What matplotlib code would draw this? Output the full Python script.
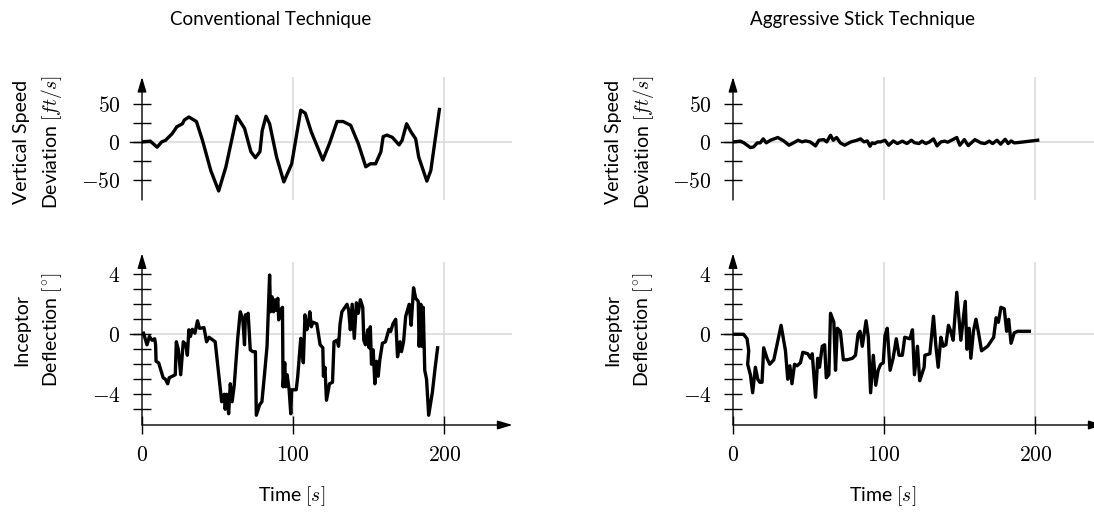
import matplotlib
matplotlib.use("Agg")
import matplotlib.pyplot as plt

plt.rcParams['font.family'] = ['Lato', 'DejaVu Sans']
plt.rcParams['mathtext.fontset'] = 'cm'

# ---------------- data ----------------
panel_titles = ["Conventional Technique", "Aggressive Stick Technique"]
time_label = "Time $[s]$"
vs_label = ["Vertical Speed", "Deviation $[ft/s]$"]
inc_label = ["Inceptor", r"Deflection $[^{\circ}]$"]

x_ticks = [0, 100, 200]
x_tick_labels = ["$0$", "$100$", "$200$"]
vs_ticks = [-50, 0, 50]
vs_tick_labels = ["$-50$", "$0$", "$50$"]
vs_minor = [-25, 25]
inc_ticks = [-4, 0, 4]
inc_tick_labels = ["$-4$", "$0$", "$4$"]
inc_minor = [-5, -3, -2, -1, 1, 2, 3]

# Conventional technique - vertical speed deviation
conv_vs_t = [0, 5.5, 10, 13, 15.5, 20, 23, 26.7, 28, 31, 36, 40, 45.5, 50.7, 55.5,
             62.7, 67.8, 72, 75, 78, 79.5, 82, 84.4, 89, 93.8, 99, 105, 108, 112,
             119.6, 124, 129, 133, 138, 143, 148, 151, 154.5, 158, 159.5, 162,
             165.6, 170, 172, 175, 178, 181, 183, 188.4, 191, 196.7]
conv_vs_v = [0, 1, -7, 0, 2, 11, 20, 24, 29, 33, 27, 2, -38, -65, -33,
             34, 18, -13, -21, -13, 15, 34, 24, -20, -53, -29, 42, 38, 13,
             -24, -2, 27, 27, 22, -2, -33, -29, -29, -13, 7, 9,
             6, -4, 2, 24, 13, 4, -20, -52, -38, 43]

# Conventional technique - inceptor deflection
conv_in_t = [1, 3.3, 4.9, 6.7, 8.4, 9, 9.3, 11, 12.2, 14, 15.5, 17, 18, 20, 22, 22.7,
             24, 25.6, 27.3, 29, 30, 31, 32, 33.3, 35, 36.7, 38, 41, 42.7, 44.4,
             48.4, 50, 52.7, 54.4, 55, 56, 57.3, 58.4, 59.6, 61, 63.3, 65, 66.7,
             67.8, 68.4, 69.3, 70.2, 71.6, 73.3, 75, 75.6, 77.8, 79.3, 81, 82.7,
             84.4, 85, 86, 87, 88, 88.9, 89.8, 90.4, 91.6, 92.9, 93.3, 94.4, 95,
             96, 97.3, 98.4, 99, 102, 103, 105, 105.5, 106.7, 107.8, 109, 110, 111,
             112, 113, 115.6, 117.8, 119.6, 120, 121, 122, 124, 126, 127, 129,
             130, 131, 132.2, 135.6, 136.7, 137.8, 139, 140.4, 141.8, 143, 144.4,
             146, 146.7, 147.8, 149.3, 150.2, 151, 151.8, 152.9, 154, 155.1,
             156.2, 157.3, 159, 161, 163.3, 164.4, 166, 167.8, 169, 170.7, 171.6,
             173, 174.4, 176.7, 178, 179.6, 181, 182.7, 183.3, 184.4, 185, 186,
             187, 188.2, 189.6, 192, 193.8, 195.5]
conv_in_v = [0.07, -0.7, -0.15, -0.4, -0.3, -0.7, -1.8, -1.9, -2.3, -2.9, -3.0, -3.3,
             -2.9, -2.8, -2.7, -0.5, -1.0, -2.7, -0.5, -0.7, -1.4, 0.3, -0.15, 0.33,
             0.07, 0.9, 0.4, 0.44, -0.5, -0.2, -0.5, -2.0, -4.5, -4.0, -5.0, -4.0,
             -5.3, -3.3, -4.5, -3.4, -0.27, 1.5, 0.96, -0.7, 1.3, 1.07, 1.4, -1.04,
             -1.16, -1.16, -5.4, -4.7, -4.5, -2.7, -0.8, 3.95, 1.5, 2.5, 1.5, 2.3,
             1.6, 2.4, 0.96, 1.6, 1.8, -3.5, -1.9, -3.5, -2.7, -3.7, -5.3, -3.7,
             -3.7, -2.8, -0.27, -0.6, -1.9, 1.3, 0.3, 0.7, 1.5, 0.5, 0.8, 0.7,
             -0.7, -0.9, -2.8, -2.2, -4.4, -3.3, -3.2, -0.5, -0.4, -0.8, 0.7, 1.5,
             2.0, 1.6, 0.3, 2.0, -0.27, 2.1, 1.4, 2.3, 1.8, -0.4, -0.7, 0.3, -0.9,
             0.5, -2.0, -1.04, -3.3, -1.8, -2.8, -1.7, -0.6, -0.5, 0.33, 0.18, 0.7,
             1.0, -1.5, -0.5, -1.16, -0.5, 1.2, 2.0, 0.6, 3.1, 2.4, 2.2, -0.8, 2.0,
             -0.8, 1.8, -2.4, -3.0, -5.4, -3.9, -2.3, -0.9]

# Aggressive stick technique - vertical speed deviation
aggr_vs_t = [0, 4.9, 7, 11.5, 13.7, 16, 18, 20, 22, 24.8, 29.6, 33.6, 37, 40, 43,
             45.7, 48, 51, 54.6, 56.8, 60, 62, 64.5, 66.3, 68.5, 71, 73.8, 78, 82,
             84.4, 86.6, 88.8, 90.6, 92, 93.7, 95.5, 97.7, 100.5, 103, 106, 108.7,
             112, 115, 118, 120, 123, 125, 127.5, 130, 132.6, 135, 137.5, 140, 142,
             144.5, 148, 150, 153, 155.6, 160, 164, 166.6, 169.5, 171.7, 174.6,
             177, 180, 182, 184, 186, 188, 201.5]
aggr_vs_v = [0, 1, -1, -7.5, -6.6, -1.3, -1.3, 4, -1.3, 2.2, 5.8, 1.3, -4.4, -1.3,
             2.2, 0, 1.3, 0, -5.3, 2.2, 3, 0, 8.8, 2.2, 5.8, -1.3, -4.4, 0, 2.2, 4,
             0, 1.3, -5.8, -1.3, -2.2, 0, 0, 2.2, -4.4, 1.3, -2.2, 1, -2.2, 2.2, -1,
             -2.2, 1, -2.2, 0, 4, -5.3, 0, 1, -0.4, 2.2, 5.8, -4.4, 3, -4.9, 3, -1.3,
             -2.2, 1, -2.2, 2.2, -3, 3.5, -2.2, 1.3, -1.3, -1, 2.2]

# Aggressive stick technique - inceptor deflection
aggr_in_t = [0, 7, 9.3, 10.4, 9.7, 11.5, 13, 14.8, 16.4, 17.7, 19.2, 20.3, 22.5, 24.3,
             27, 31.8, 34.7, 36.2, 37.6, 39, 40.7, 42.4, 44.6, 46.2, 49.5, 51.3,
             52.4, 54.6, 56, 57.2, 59, 60.6, 61.7, 63.4, 64.5, 66.7, 67.8, 69, 71,
             73, 75.6, 79, 81, 82.7, 84, 85.5, 88, 89.5, 91, 92.8, 94.4, 96, 97.7,
             99.4, 100.5, 102, 103.9, 105.9, 108, 109.8, 112, 113.6, 117, 118.7,
             120, 122, 123.5, 126.4, 126.9, 130.2, 132.6, 134.1, 135.7, 137.5, 139,
             140.8, 142.5, 144, 145.6, 148, 149.6, 150.7, 153.6, 154.7, 156.2,
             157.3, 159, 160.7, 162.2, 164.4, 168.4, 172.4, 174, 175.5, 177.2,
             179.4, 181, 182.3, 183.9, 186, 188.3, 196]
aggr_in_v = [0, 0, -0.3, -1.1, -2, -2.7, -3.9, -2.2, -3, -3.2, -3.2, -0.9, -1.6, -2,
             -1.7, 0.6, -1.1, -3, -2.1, -3.3, -2, -2.1, -1.9, -1.2, -1.3, -1.6, -1.3,
             -4.2, -1.6, -2.2, -0.8, -0.7, -2.9, -2.7, 1.4, 0.8, -2.4, 0.4, 0.2, -1.7,
             -1.7, -1.6, -1.4, 0, 0.2, -0.8, 0.9, -0.2, -3.9, -1.4, -3.4, -2.4, -2,
             -1.9, -0.1, 0.4, -2.4, -1.6, -0.3, -1.4, -1.4, -0.2, -0.3, 0.3, -2.7,
             -0.8, -3.1, -2.2, -1.4, -1.3, 1.2, -0.7, -2.2, -0.2, -0.8, -0.7, 0.6, 0.2,
             -0.4, 2.8, 0.9, -0.4, 2.2, -1, 0.4, -1.6, 0.2, 1.0, 0.2, -1.1, -0.8,
             -0.2, 1.1, 0.8, 1.8, 1.7, 0.2, 1.0, -0.6, 0.1, 0.2, 0.2]

# ---------------- layout ----------------
W, H = 1094, 514
fig = plt.figure(figsize=(W / 100, H / 100), dpi=100)

XMAX = 245
XSCALE = 1.512
GRID = '#dcdcdc'
TXT = 13.5
TICK_FS = 15.5


def px_axes(x0, ytop, x1, ybot):
    return fig.add_axes([x0 / W, (H - ybot) / H, (x1 - x0) / W, (ybot - ytop) / H])


def style(ax, ylim, major, labels, minor, bottom, arrow_top):
    ax.set_xlim(0, XMAX)
    ax.set_ylim(*ylim)
    ax.patch.set_visible(False)
    for s in ax.spines.values():
        s.set_visible(False)
    ax.set_yticks(major, labels=labels)
    ax.set_yticks(minor, minor=True)
    ax.tick_params(axis='y', which='both', direction='inout', length=13, width=1.0,
                   labelsize=TICK_FS, pad=9)
    ax.axhline(0, color=GRID, lw=1.2, zorder=0)
    for xv in x_ticks[1:]:
        ax.axvline(xv, color=GRID, lw=1.2, zorder=0)
    # longer zero tick on the left
    ax.plot([-0.033, 0], [0, 0], transform=ax.get_yaxis_transform(), color='black',
            lw=1.0, clip_on=False)
    ax.annotate('', xy=(0, arrow_top), xytext=(0, 0), xycoords='axes fraction',
                arrowprops=dict(arrowstyle='-|>,head_length=0.9,head_width=0.27',
                                color='black', lw=1.0, shrinkA=0, shrinkB=0,
                                mutation_scale=10))
    if bottom:
        ax.set_xticks(x_ticks, labels=x_tick_labels)
        ax.tick_params(axis='x', direction='inout', length=13, width=1.0,
                       labelsize=TICK_FS, pad=8)
        ax.annotate('', xy=(1.0, 0), xytext=(0, 0), xycoords='axes fraction',
                    arrowprops=dict(arrowstyle='-|>,head_length=0.9,head_width=0.27',
                                    color='black', lw=1.0, shrinkA=0, shrinkB=0,
                                    mutation_scale=10))
    else:
        ax.set_xticks([])


series = [
    (conv_vs_t, conv_vs_v, conv_in_t, conv_in_v),
    (aggr_vs_t, aggr_vs_v, aggr_in_t, aggr_in_v),
]

for i, (vt, vv, it, iv) in enumerate(series):
    off = 591 * i
    x0 = 142 + off
    x1 = x0 + XMAX * XSCALE
    ax_top = px_axes(x0, 77, x1, 200)
    ax_bot = px_axes(x0, 262.3, x1, 425)

    ax_top.plot(vt, vv, color='black', lw=2.4, zorder=3, solid_joinstyle='round')
    style(ax_top, (-77, 86), vs_ticks, vs_tick_labels, vs_minor, False, 1.0)

    ax_bot.plot(it, iv, color='black', lw=2.4, zorder=3, solid_joinstyle='round')
    style(ax_bot, (-6.05, 4.8), inc_ticks, inc_tick_labels, inc_minor, True, 1.055)

    fig.text((271 + off) / W, 1 - 20 / H, panel_titles[i], ha='center', va='center',
             fontsize=TXT)
    fig.text((292 + off) / W, 1 - 496 / H, time_label, ha='center', va='center',
             fontsize=TXT + 0.5)
    fig.text((22 + off) / W, 1 - 142 / H, vs_label[0], rotation=90, ha='center',
             va='center', fontsize=TXT + 0.5)
    fig.text((52 + off) / W, 1 - 142 / H, vs_label[1], rotation=90, ha='center',
             va='center', fontsize=TXT + 0.5)
    fig.text((22 + off) / W, 1 - 330 / H, inc_label[0], rotation=90, ha='center',
             va='center', fontsize=TXT + 0.5)
    fig.text((52 + off) / W, 1 - 330 / H, inc_label[1], rotation=90, ha='center',
             va='center', fontsize=TXT + 0.5)

fig.savefig('out.png', dpi=100)
